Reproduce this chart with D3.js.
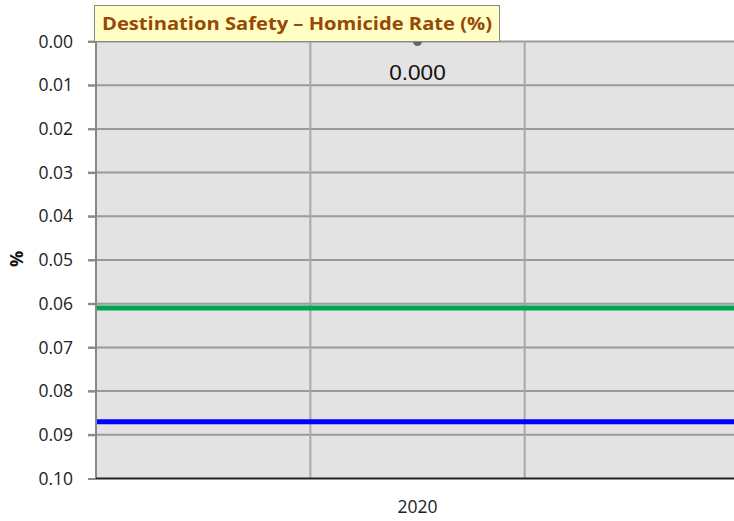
<!DOCTYPE html>
<html>
<head>
<meta charset="utf-8">
<script src="https://cdn.jsdelivr.net/npm/d3@7"></script>
<style>
  body { margin: 0; background: #fff; }
  svg { display: block; }
</style>
</head>
<body>
<div id="chart"></div>
<script>
// data
const xCategories = ["", "2020", " "];
const homicideYears = ["2020"];
const homicideValues = [0.000];
const refLevels = [0.061, 0.087];
const refColors = ["#00a650", "#0000ff"];
const yTicks = [0, 0.01, 0.02, 0.03, 0.04, 0.05, 0.06, 0.07, 0.08, 0.09, 0.10];

const W = 734, H = 521;
const m = { top: 41.5, left: 96, bottom: 42.5 };
const plotRight = 739;

const svg = d3.select("#chart").append("svg").attr("width", W).attr("height", H);

const x = d3.scaleBand().domain(xCategories).range([m.left, plotRight]);
const y = d3.scaleLinear().domain([0, 0.10]).range([m.top, H - m.bottom]);

svg.append("rect")
  .attr("x", m.left).attr("y", m.top)
  .attr("width", plotRight - m.left).attr("height", y(0.10) - m.top)
  .attr("fill", "#e3e3e3");

// horizontal grid
svg.append("g").selectAll("line").data(yTicks.slice(0, -1)).join("line")
  .attr("x1", m.left - 8).attr("x2", plotRight)
  .attr("y1", d => y(d)).attr("y2", d => y(d))
  .attr("stroke", "#9a9a9a").attr("stroke-width", 2);

// vertical grid at band edges
svg.append("g").selectAll("line").data(xCategories.slice(1)).join("line")
  .attr("x1", d => x(d)).attr("x2", d => x(d))
  .attr("y1", m.top).attr("y2", y(0.10))
  .attr("stroke", "#a8a8a8").attr("stroke-width", 2);

// y axis
const yAxis = svg.append("g").attr("transform", `translate(${m.left},0)`)
  .call(d3.axisLeft(y).tickValues(yTicks).tickFormat(d3.format(".2f")).tickSize(8).tickPadding(15));
yAxis.select(".domain").remove();
yAxis.selectAll(".tick line").attr("stroke", "#8a8a8a").attr("stroke-width", 2);
yAxis.selectAll(".tick text")
  .attr("font-family", "'Open Sans', 'Liberation Sans', sans-serif")
  .attr("font-size", 17.5).attr("fill", "#222");

svg.append("line")
  .attr("x1", m.left).attr("x2", m.left)
  .attr("y1", m.top).attr("y2", y(0.10))
  .attr("stroke", "#888").attr("stroke-width", 2);

// x axis
svg.append("line")
  .attr("x1", m.left).attr("x2", plotRight)
  .attr("y1", y(0.10)).attr("y2", y(0.10))
  .attr("stroke", "#222").attr("stroke-width", 2);

svg.append("g").selectAll("text").data(xCategories.filter(d => d.trim())).join("text")
  .attr("x", d => x(d) + x.bandwidth() / 2).attr("y", 513)
  .attr("text-anchor", "middle")
  .attr("font-family", "'Open Sans', 'Liberation Sans', sans-serif")
  .attr("font-size", 17.5).attr("fill", "#222")
  .text(d => d);

// reference lines
svg.append("g").selectAll("line").data(refLevels).join("line")
  .attr("x1", m.left + 1).attr("x2", plotRight)
  .attr("y1", d => y(d)).attr("y2", d => y(d))
  .attr("stroke", (d, i) => refColors[i]).attr("stroke-width", 5);

// series point
svg.append("g").selectAll("circle").data(homicideValues).join("circle")
  .attr("cx", (d, i) => x(homicideYears[i]) + x.bandwidth() / 2)
  .attr("cy", d => y(d)).attr("r", 4.5)
  .attr("fill", "#666");

svg.append("g").selectAll("text").data(homicideValues).join("text")
  .attr("x", (d, i) => x(homicideYears[i]) + x.bandwidth() / 2)
  .attr("y", d => y(d) + 38)
  .attr("text-anchor", "middle")
  .attr("font-family", "'Liberation Sans', Arial, sans-serif")
  .attr("font-size", 22.5).attr("fill", "#111")
  .text(d => d3.format(".3f")(d));

// y label
svg.append("text")
  .attr("transform", "translate(23,259) rotate(-90)")
  .attr("text-anchor", "middle")
  .attr("font-family", "'Open Sans', 'Liberation Sans', sans-serif")
  .attr("font-weight", "bold").attr("font-size", 18).attr("fill", "#111")
  .text("%");

// title box
const title = svg.append("g");
title.append("rect")
  .attr("x", 94.5).attr("y", 5.5).attr("width", 405).attr("height", 36)
  .attr("fill", "#ffffc3").attr("stroke", "#888").attr("stroke-width", 1);
title.append("text")
  .attr("x", 297).attr("y", 30)
  .attr("text-anchor", "middle")
  .attr("font-family", "'Open Sans', 'Liberation Sans', sans-serif")
  .attr("font-weight", "bold").attr("font-size", 18).attr("fill", "#984807")
  .attr("textLength", 390).attr("lengthAdjust", "spacingAndGlyphs")
  .text("Destination Safety – Homicide Rate (%)");
</script>
</body>
</html>
